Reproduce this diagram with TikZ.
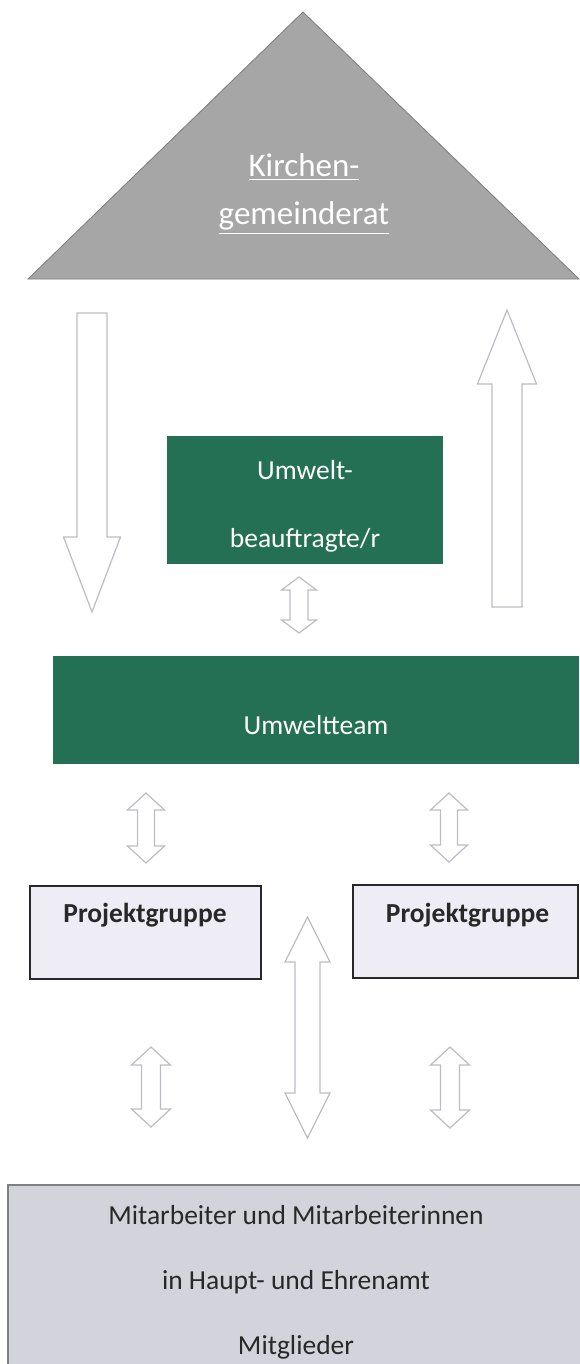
\documentclass[tikz,border=0pt]{standalone}
\usepackage{fontspec}
\setmainfont{Carlito}
\usepackage{xcolor}
\definecolor{roofgray}{RGB}{166,166,166}
\definecolor{umweltgreen}{RGB}{36,112,84}
\definecolor{pgfill}{RGB}{238,236,244}
\definecolor{basefill}{RGB}{211,211,219}
\definecolor{arrowline}{RGB}{188,188,196}
\definecolor{darktext}{RGB}{40,40,40}
\tikzset{
  blockarrow/.style={draw=arrowline, fill=white, line width=0.6pt, line join=miter}
}
\newcommand{\twoway}[6]{%
  \draw[blockarrow] (#1,#2) -- ({#1+#5},{#2+#6}) -- ({#1+#4},{#2+#6}) -- ({#1+#4},{#3-#6})
    -- ({#1+#5},{#3-#6}) -- (#1,#3) -- ({#1-#5},{#3-#6}) -- ({#1-#4},{#3-#6})
    -- ({#1-#4},{#2+#6}) -- ({#1-#5},{#2+#6}) -- cycle;}
\newcommand{\oneway}[6]{%
  \draw[blockarrow] ({#1-#4},#2) -- ({#1+#4},#2) -- ({#1+#4},{#3-#6*sign(#3-#2)})
    -- ({#1+#5},{#3-#6*sign(#3-#2)}) -- (#1,#3) -- ({#1-#5},{#3-#6*sign(#3-#2)})
    -- ({#1-#4},{#3-#6*sign(#3-#2)}) -- cycle;}

\begin{document}
\begin{tikzpicture}[x=0.5pt, y=-0.5pt,
    greenbox/.style={rectangle, fill=umweltgreen, inner sep=0pt},
    pgbox/.style={rectangle, draw=darktext, fill=pgfill, line width=0.7pt, inner sep=0pt},
    basebox/.style={rectangle, draw=gray, fill=basefill, line width=0.6pt, inner sep=0pt},
    wtext/.style={text=white, align=center, font=\fontsize{13.75}{34}\selectfont},
    dtext/.style={text=darktext, align=center, font=\fontsize{13.75}{32.5}\selectfont} ]
    \useasboundingbox (0,0) rectangle (579,1364);
    \draw [fill=roofgray, draw=roofgray!75!black, line width=0.4pt] (28,279) -- (303,12) -- (579,279) -- cycle;
    \node [text=white, align=center, font=\fontsize{16.5}{24}\selectfont] (kgr) at (304,194)
      {\underline{Kirchen-}\\\underline{gemeinderat}};
    \node [greenbox, minimum width=138pt, minimum height=64pt] (ub) at (305,500) {};
    \node [wtext] (ubtext) at (305,506) {Umwelt-\\beauftragte/r};
    \node [greenbox, minimum width=263pt, minimum height=54pt] (team) at (316,710) {};
    \node [wtext] (teamtext) at (316,725) {Umweltteam};
    \node [pgbox, minimum width=115.5pt, minimum height=46.5pt] (pgl) at (145.5,932.5) {};
    \node [dtext, font=\fontsize{13.75}{16}\selectfont\bfseries] (pgltext) at (145,915) {Projektgruppe};
    \node [pgbox, minimum width=112.5pt, minimum height=46.5pt] (pgr) at (465.5,931.5) {};
    \node [dtext, font=\fontsize{13.75}{16}\selectfont\bfseries] (pgrtext) at (467.5,915) {Projektgruppe};
    \node [basebox, minimum width=291pt, minimum height=97.5pt] (base) at (299,1282.5) {};
    \node [dtext] (basetext) at (296,1282) {Mitarbeiter und Mitarbeiterinnen\\in Haupt- und Ehrenamt\\Mitglieder};
    \oneway{92}{313}{612}{15}{28.5}{75}
    \oneway{507}{607}{310}{15}{29.5}{74}
    \twoway{299}{577}{633}{9}{17.5}{13}
    \twoway{146}{793}{863}{8.5}{18.5}{17}
    \twoway{449}{793}{862}{8.5}{18.5}{17}
    \twoway{307.5}{917}{1138}{12.5}{22.5}{45}
    \twoway{151}{1047}{1127}{9.5}{19.5}{18}
    \twoway{450}{1047}{1128}{9.5}{19.5}{18}
\end{tikzpicture}
\end{document}
